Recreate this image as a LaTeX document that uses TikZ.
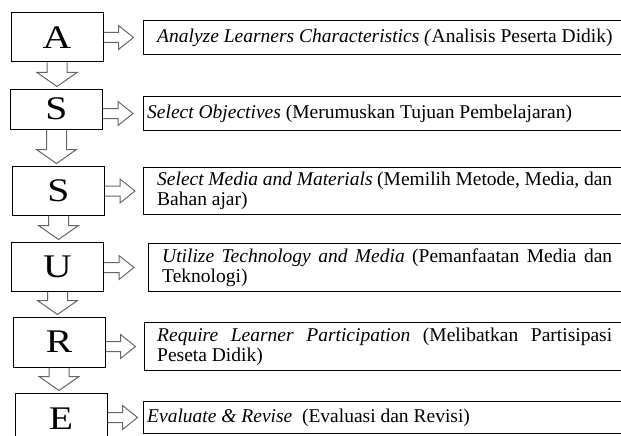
\documentclass[tikz,border=0pt]{standalone}
\usepackage{fontspec}
\setmainfont{Liberation Serif}
\newfontfamily\stepfont[FakeStretch=1.2]{Liberation Serif}
\usepackage{tikz}
\usetikzlibrary{calc}
\tikzstyle{letter} = [rectangle, draw, line width=1pt, minimum width=92pt, font=\stepfont\fontsize{33}{33}\selectfont]
\tikzstyle{descbox} = [rectangle, draw, line width=1pt, anchor=north west, minimum width=520pt]
\tikzstyle{desc} = [anchor=west, inner sep=0pt, align=left, font=\fontsize{19.5}{20}\selectfont]
\tikzstyle{wrapped} = [text width=#1, align=justify]
\tikzstyle{hollow} = [draw=black!60, line width=1pt, line join=miter]

% hollow arrow from a letter box to its text box
\newcommand{\rarrow}[2]{%
  \coordinate (s) at (#1.east |- #2.west);
  \draw[hollow] ($(s)+(0,-5)$) -- ($(s)+(15,-5)$) -- ($(s)+(15,-12)$) -- ($(s)+(30,0)$)
    -- ($(s)+(15,12)$) -- ($(s)+(15,5)$) -- ($(s)+(0,5)$);
}
% hollow arrow from one letter box down to the next
\newcommand{\darrow}[2]{%
  \coordinate (tip) at ($(#1.south |- #2.north)+(0,-2)$);
  \coordinate (base) at ($(tip)+(0,-14)$);
  \draw[hollow] ($(#1.south)+(-10,0)$) -- ($(#1.south -| base)+(-10,0)$) -- ($(base)+(-10,0)$)
    -- ($(base)+(-20,0)$) -- (tip) -- ($(base)+(20,0)$) -- ($(base)+(10,0)$) -- ($(#1.south)+(10,0)$);
}

\begin{document}
\begin{tikzpicture}[x=1pt, y=-1pt]
        \useasboundingbox (0,0) rectangle (621,436);
        \clip (0,0) rectangle (621,436);

        % Letter boxes
        \node [letter, minimum height=49pt] (A) at (57,37.5) {A};
        \node [letter, minimum height=40pt] (S1) at (56.5,109) {S};
        \node [letter, minimum height=49pt] (S2) at (58.5,190.5) {S};
        \node [letter, minimum height=49pt] (U) at (57.5,266.5) {U};
        \node [letter, minimum height=50pt] (R) at (59,342) {R};
        \node [letter, minimum height=52pt] (E) at (61,419) {E};

        % Text boxes
        \node [descbox, minimum height=34pt] (d1) at (143,20) {};
        \node [descbox, minimum height=34pt] (d2) at (143,96) {};
        \node [descbox, minimum height=47pt] (d3) at (143,167) {};
        \node [descbox, minimum height=48pt] (d4) at (148,243) {};
        \node [descbox, minimum height=48pt] (d5) at (144,322) {};
        \node [descbox, minimum height=32pt] (d6) at (143,401) {};

        \node [desc] (t1) at ($(d1.west)+(14,0)$) {\textit{Analyze Learners Characteristics (}Analisis Peserta Didik)};
        \node [desc] (t2) at ($(d2.west)+(4,0)$) {\textit{Select Objectives} (Merumuskan Tujuan Pembelajaran)};
        \node [desc, wrapped=455pt] (t3) at ($(d3.west)+(14,0)$) {\textit{Select Media and Materials} (Memilih Metode, Media, dan\linebreak Bahan ajar)};
        \node [desc, wrapped=450pt] (t4) at ($(d4.west)+(14,0)$) {\textit{Utilize Technology and Media} (Pemanfaatan Media dan\linebreak Teknologi)};
        \node [desc, wrapped=455pt] (t5) at ($(d5.west)+(13,0)$) {\textit{Require Learner Participation} (Melibatkan Partisipasi\linebreak Peseta Didik)};
        \node [desc] (t6) at ($(d6.west)+(4,0)$) {\textit{Evaluate \& Revise}\ \ (Evaluasi dan Revisi)};

        % Arrows to the text boxes
        \rarrow{A}{d1}
        \rarrow{S1}{d2}
        \rarrow{S2}{d3}
        \rarrow{U}{d4}
        \rarrow{R}{d5}
        \rarrow{E}{d6}

        % Arrows down the steps
        \darrow{A}{S1}
        \darrow{S1}{S2}
        \darrow{S2}{U}
        \darrow{U}{R}
        \darrow{R}{E}
    \end{tikzpicture}
\end{document}
